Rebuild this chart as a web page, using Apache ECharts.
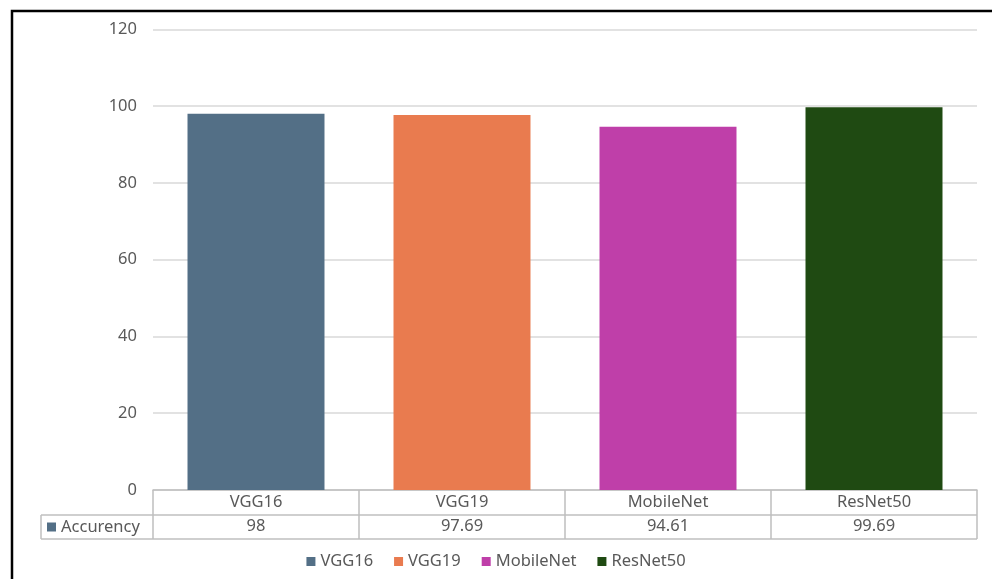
<!DOCTYPE html>
<html><head><meta charset="utf-8">
<script src="https://cdn.jsdelivr.net/npm/echarts@6/dist/echarts.min.js"></script>
<style>html,body{margin:0;padding:0;background:#fff}#c{width:992px;height:579px}</style>
</head><body><div id="c"></div>
<script>
const categories = ['VGG16', 'VGG19', 'MobileNet', 'ResNet50'];
const accuracy = [98, 97.69, 94.61, 99.69];
const seriesColors = ['#536f86', '#e97b4f', '#bf3fa9', '#1f4a12'];
const rowName = 'Accurency';
const yMin = 0, yMax = 120, yStep = 20;

const FONT = '"Noto Sans", "Open Sans", sans-serif';
const FS = 16.5;
const TXT = '#595959';
const LINE = '#bfbfbf';

const chart = echarts.init(document.getElementById('c'), null, {renderer: 'canvas'});

const series = categories.map((name, i) => ({
  name: name,
  type: 'bar',
  xAxisIndex: 0, yAxisIndex: 0,
  data: categories.map((c, j) => j === i ? accuracy[j] : '-'),
  barWidth: '66.5%',
  barGap: '-100%',
  itemStyle: {color: seriesColors[i]},
  emphasis: {disabled: true}
}));

chart.setOption({
  animation: false,
  color: seriesColors,
  grid: {left: 153, right: 15, top: 29.4, bottom: 89, containLabel: false},
  legend: {
    top: 548, left: 'center',
    itemWidth: 9, itemHeight: 9, itemGap: 21,
    icon: 'rect',
    textStyle: {color: TXT, fontSize: FS, fontFamily: FONT, padding: [0, 0, 0, 0]},
    data: categories
  },
  xAxis: [{
    type: 'category', data: categories, position: 'bottom',
    axisLine: {show: true, lineStyle: {color: LINE, width: 1.5}},
    axisTick: {show: true, interval: 0, length: 49, lineStyle: {color: LINE, width: 1.5}},
    axisLabel: {color: TXT, fontSize: FS, fontFamily: FONT, margin: 4, interval: 0}
  }, {
    type: 'category', data: accuracy.map(v => String(v)), position: 'bottom', offset: 24,
    gridIndex: 0,
    axisLine: {show: false}, axisTick: {show: false},
    axisLabel: {color: TXT, fontSize: FS, fontFamily: FONT, margin: 4, interval: 0}
  }],
  yAxis: {
    type: 'value', min: yMin, max: yMax, interval: yStep,
    axisLine: {show: false}, axisTick: {show: false},
    axisLabel: {color: TXT, fontSize: FS, fontFamily: FONT, margin: 16},
    splitLine: {lineStyle: {color: '#d9d9d9', width: 1.5}}
  },
  series: series
});

// data table decorations, positioned from the axis scales
const c0 = chart.convertToPixel({xAxisIndex: 0}, categories[0]);
const c1 = chart.convertToPixel({xAxisIndex: 0}, categories[1]);
const cN = chart.convertToPixel({xAxisIndex: 0}, categories[categories.length - 1]);
const bw = c1 - c0;
const xRight = cN + bw / 2;
const y0 = chart.convertToPixel({yAxisIndex: 0}, 0);
const tableLeft = 41;
const r1 = y0 + 25, r2 = y0 + 49;
const ls = {stroke: LINE, lineWidth: 1.5};

chart.setOption({
  graphic: [
    {type: 'rect', shape: {x: 12, y: 11, width: 1200, height: 800}, style: {fill: 'none', stroke: '#000', lineWidth: 2.5}, silent: true},
    {type: 'line', shape: {x1: tableLeft, y1: r1, x2: xRight, y2: r1}, style: ls, silent: true},
    {type: 'line', shape: {x1: tableLeft, y1: r2, x2: xRight, y2: r2}, style: ls, silent: true},
    {type: 'line', shape: {x1: tableLeft, y1: r1, x2: tableLeft, y2: r2}, style: ls, silent: true},
    {type: 'rect', shape: {x: tableLeft + 6, y: (r1 + r2) / 2 - 4.5, width: 9, height: 9}, style: {fill: seriesColors[0]}, silent: true},
    {type: 'text', x: tableLeft + 20, y: (r1 + r2) / 2, style: {text: rowName, fill: TXT, font: FS + 'px ' + FONT, verticalAlign: 'middle'}, silent: true}
  ]
});
</script></body></html>
